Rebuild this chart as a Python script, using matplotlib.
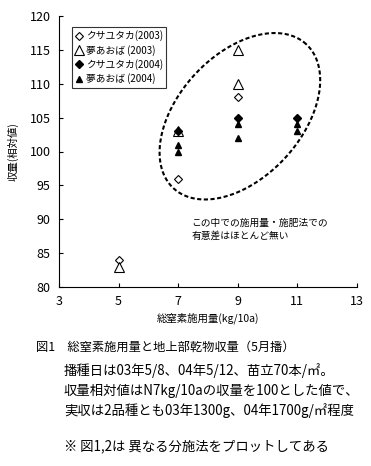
import numpy as np
import matplotlib
matplotlib.use("Agg")
import matplotlib.pyplot as plt

plt.rcParams['font.family'] = ['Noto Sans CJK JP', 'DejaVu Sans']

# Data
kusa2003_x = [5, 7, 9]
kusa2003_y = [84, 96, 108]
yume2003_x = [5, 7, 9, 9]
yume2003_y = [83, 103, 115, 110]
kusa2004_x = [7, 9, 11]
kusa2004_y = [103, 105, 105]
yume2004_x = [7, 7, 9, 9, 11, 11]
yume2004_y = [101, 100, 104, 102, 104, 103]

x_ticks = [3, 5, 7, 9, 11, 13]
y_ticks = [80, 85, 90, 95, 100, 105, 110, 115, 120]

fig = plt.figure(figsize=(3.71, 4.66), dpi=100)
ax = fig.add_axes([59/371, 1-287/466, (357-59)/371, (287-16)/466])

ax.plot(kusa2003_x, kusa2003_y, 'D', mfc='white', mec='black', ms=4.5, mew=0.8, ls='none', label='クサユタカ(2003)', zorder=3)
ax.plot(yume2003_x, yume2003_y, '^', mfc='white', mec='black', ms=7.5, mew=0.8, ls='none', label='夢あおば (2003)', zorder=3)
ax.plot(kusa2004_x, kusa2004_y, 'D', mfc='black', mec='black', ms=3.8, ls='none', label='クサユタカ(2004)', zorder=4)
ax.plot(yume2004_x, yume2004_y, '^', mfc='black', mec='black', ms=4.5, ls='none', label='夢あおば (2004)', zorder=4)

# dashed ellipse annotation
cx, cy = 9.07, 105.2
a, b, th = 98.0, 61.5, np.deg2rad(47.4)
sx, sy = 2/59.6, 5/33.9
t = np.linspace(0, 2*np.pi, 400)
ex = cx + sx*(a*np.cos(th)*np.cos(t) - b*np.sin(th)*np.sin(t))
ey = cy + sy*(a*np.sin(th)*np.cos(t) + b*np.cos(th)*np.sin(t))
ax.plot(ex, ey, color='black', lw=1.5, ls=(0, (2, 1.2)), zorder=2)

ax.set_xlim(3, 13)
ax.set_ylim(80, 120)
ax.set_xticks(x_ticks)
ax.set_yticks(y_ticks)
ax.tick_params(direction='in', length=3, width=0.8, labelsize=9, pad=6)
ax.spines['top'].set_visible(False)
ax.spines['right'].set_visible(False)
ax.set_xlabel('総窒素施用量(kg/10a)', fontsize=7.5, labelpad=3)
ax.set_ylabel('収量(相対値)', fontsize=7.5, labelpad=8)

leg = ax.legend(loc='upper left', bbox_to_anchor=(0.043, 0.96), fontsize=7, frameon=True,
                fancybox=False, edgecolor='black', handlelength=0.8, handletextpad=0.3,
                borderpad=0.35, labelspacing=0.35, borderaxespad=0)
leg.get_frame().set_linewidth(0.8)

ax.text(7.45, 90.2, 'この中での施用量・施肥法での\n有意差はほとんど無い', fontsize=7, va='top', ha='left', linespacing=1.3)

fig.text(36/371, 1-347/466, '図1　総窒素施用量と地上部乾物収量（5月播）', fontsize=8.8, va='center', ha='left')
fig.text(64/371, 1-371/466, '播種日は03年5/8、04年5/12、苗立70本/㎡。', fontsize=9.6, va='center', ha='left')
fig.text(64/371, 1-391/466, '収量相対値はN7kg/10aの収量を100とした値で、', fontsize=9.6, va='center', ha='left')
fig.text(64/371, 1-411/466, '実収は2品種とも03年1300g、04年1700g/㎡程度', fontsize=9.6, va='center', ha='left')
fig.text(64/371, 1-446/466, '※ 図1,2は 異なる分施法をプロットしてある', fontsize=9.6, va='center', ha='left')

fig.savefig('out.png', dpi=100)
